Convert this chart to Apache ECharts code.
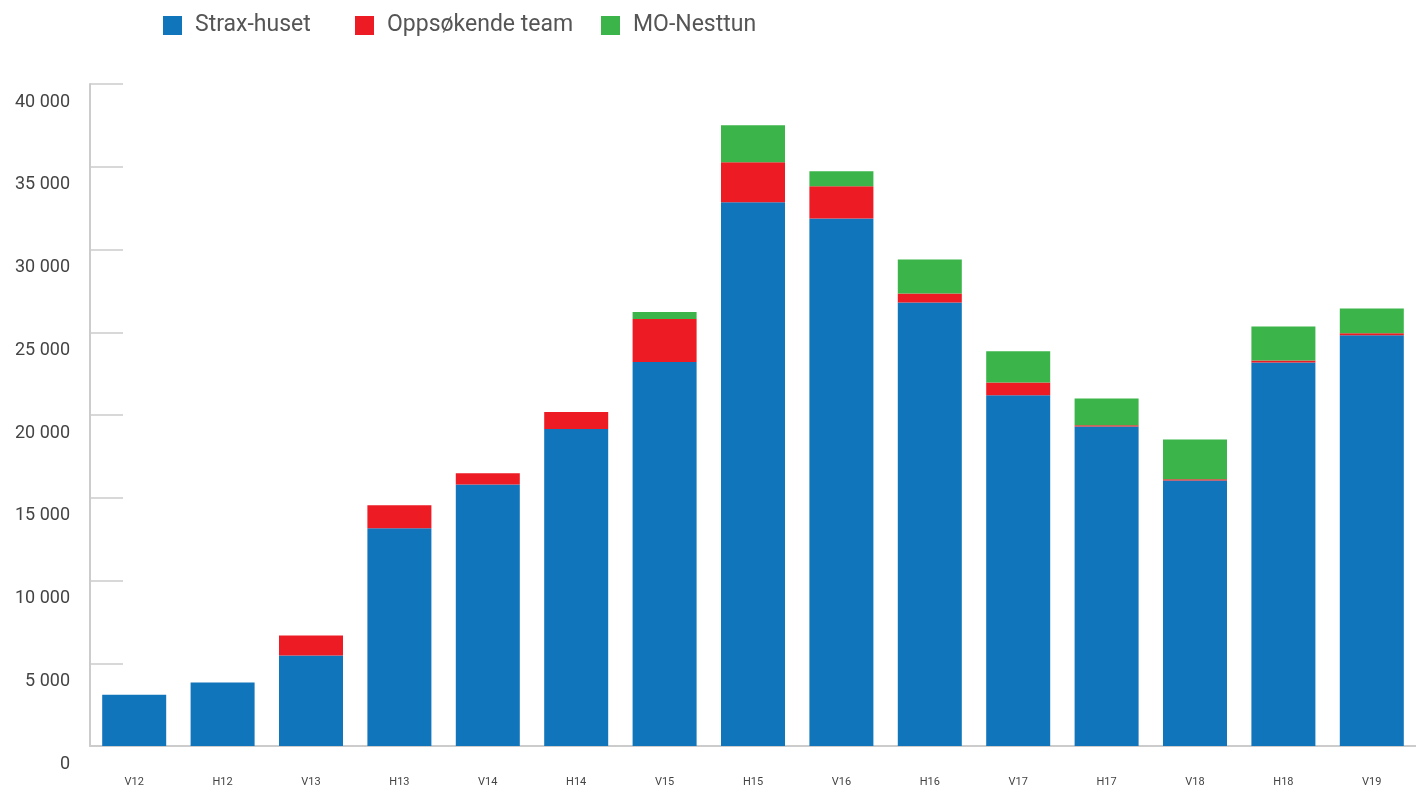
<!DOCTYPE html>
<html lang="no" style="height: 100%">
<head>
    <meta charset="utf-8">
    <title>Besøk</title>
    <script src="https://cdn.jsdelivr.net/npm/echarts@6/dist/echarts.min.js"></script>
    <style>
        body { margin: 0; height: 100%; background: #fff; }
        #chart { width: 1416px; height: 788px; }
    </style>
</head>
<body>
<div id="chart"></div>
<script>
    // data
    const periods = ['V12', 'H12', 'V13', 'H13', 'V14', 'H14', 'V15', 'H15', 'V16', 'H16', 'V17', 'H17', 'V18', 'H18', 'V19'];
    const strax = [3100, 3830, 5470, 13150, 15800, 19150, 23200, 32850, 31880, 26800, 21200, 19300, 16040, 23170, 24820];
    const oppsokende = [0, 0, 1210, 1390, 680, 1030, 2600, 2420, 1940, 540, 770, 80, 80, 120, 120];
    const moNesttun = [0, 0, 0, 0, 0, 0, 420, 2240, 910, 2060, 1880, 1620, 2400, 2060, 1500];
    const seriesNames = ['Strax-huset', 'Oppsøkende team', 'MO-Nesttun'];
    const colors = ['#1175BB', '#ED1C24', '#3BB54A'];
    const legendLeft = [163, 355, 601];

    const font = 'Roboto, "DejaVu Sans", sans-serif';
    const gray = '#cccccc';

    const chart = echarts.init(document.getElementById('chart'));

    const fmt = v => String(v).replace(/\B(?=(\d{3})+(?!\d))/g, ' ');

    const series = [strax, oppsokende, moNesttun].map((d, i) => ({
        name: seriesNames[i],
        type: 'bar',
        stack: 'total',
        barWidth: 64,
        itemStyle: { color: colors[i] },
        data: d
    }));

    // one legend per item so each sits where it does in the original
    const legends = seriesNames.map((name, i) => ({
        left: legendLeft[i],
        top: 14,
        padding: 0,
        icon: 'rect',
        itemWidth: 19,
        itemHeight: 19,
        textStyle: { fontSize: 23, color: '#555', fontFamily: font, padding: [0, 0, 0, 8] },
        data: [name]
    }));

    chart.setOption({
        animation: false,
        textStyle: { fontFamily: font },
        legend: legends,
        grid: { left: 90, width: 1330, top: 84, bottom: 42, containLabel: false },
        xAxis: {
            type: 'category',
            data: periods,
            axisLine: { lineStyle: { color: gray, width: 2 } },
            axisTick: { inside: true, length: 17, lineStyle: { color: gray, width: 1.5 } },
            axisLabel: { fontSize: 11, color: '#444', margin: 31, fontFamily: font }
        },
        yAxis: {
            type: 'value',
            min: 0,
            max: 40000,
            interval: 5000,
            axisLine: { show: true, lineStyle: { color: gray, width: 2 } },
            axisTick: { show: true, inside: true, length: 33, lineStyle: { color: gray, width: 1.5 } },
            splitLine: { show: false },
            axisLabel: {
                fontSize: 18,
                color: '#444',
                margin: 20,
                verticalAlign: 'top',
                lineHeight: 18,
                padding: [9, 0, 0, 0],
                fontFamily: font,
                formatter: v => fmt(v)
            }
        },
        series: series
    });
</script>
</body>
</html>
